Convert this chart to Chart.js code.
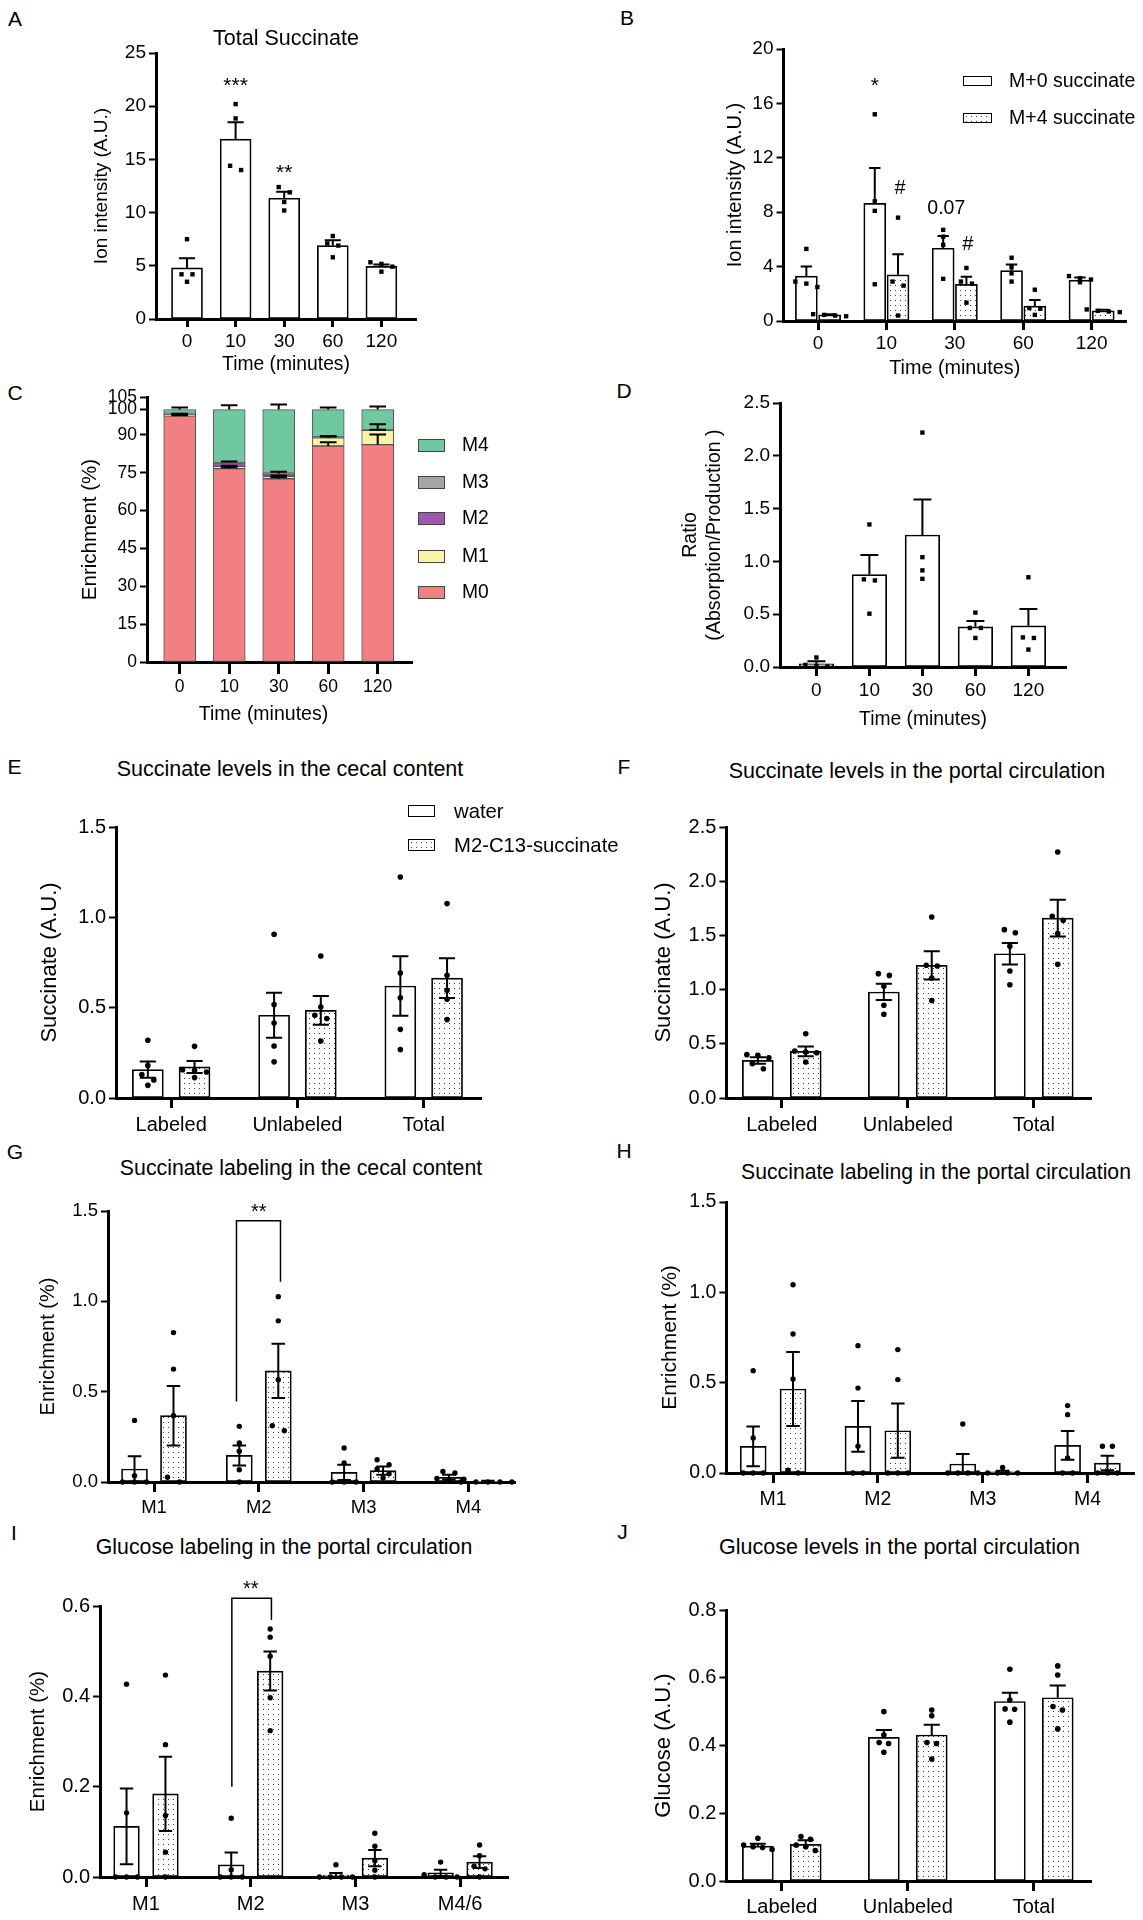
<!DOCTYPE html>
<html>
<head>
<meta charset="utf-8">
<title>Succinate absorption figure</title>
<script src="https://cdn.jsdelivr.net/npm/chart.js@4.4.1/dist/chart.umd.min.js"></script>
<style>
  body { margin: 0; background: #fff; }
  #page { position: relative; width: 1143px; height: 1920px; overflow: hidden;
          font-family: 'Liberation Sans', Arial, sans-serif; color: #000; background: #fff; }
  #page canvas { position: absolute; }
  .txt { position: absolute; white-space: nowrap; line-height: 1; transform: translate(-50%, -50%); }
  .leg { position: absolute; white-space: nowrap; line-height: 1; transform: translateY(-50%); }
  .sw { position: absolute; box-sizing: border-box; border: 1.5px solid #000; background: #fff; }
  .sw.dots { background: radial-gradient(circle at 2.5px 2.5px, #444 0.7px, transparent 1px) 0 0 / 5px 5px, #fff; }
</style>
</head>
<body>
<div id="page"></div>
<script>
// ---- data ----
const timeCats = ['0', '10', '30', '60', '120'];
const levelCats = ['Labeled', 'Unlabeled', 'Total'];
const isoCats = ['M1', 'M2', 'M3', 'M4'];
const glucoseIsoCats = ['M1', 'M2', 'M3', 'M4/6'];

const aTicks = [0, 5, 10, 15, 20, 25];
const bTicks = [0, 4, 8, 12, 16, 20];
const cTicks = [0, 15, 30, 45, 60, 75, 90, 100, 105];
const dTicks = [0, 0.5, 1, 1.5, 2, 2.5];
const eTicks = [0, 0.5, 1, 1.5];
const fTicks = [0, 0.5, 1, 1.5, 2, 2.5];
const gTicks = [0, 0.5, 1, 1.5];
const iTicks = [0, 0.2, 0.4, 0.6];
const jTicks = [0, 0.2, 0.4, 0.6, 0.8];

// A: total succinate
const totalMean = [4.8, 16.9, 11.35, 6.9, 4.95];
const totalSem = [0.9, 1.6, 0.6, 0.5, 0.18];
const totalDots = [[7.5, 4.2, 4.2, 3.5], [20.2, 18.85, 14.4, 14.0], [12.4, 11.9, 11.0, 10.2], [7.8, 7.1, 6.9, 5.8], [5.33, 5.18, 4.92, 4.45]];

// B: M+0 / M+4 succinate
const bLegend = ['M+0 succinate', 'M+4 succinate'];
const m0Mean = [3.3, 8.65, 5.35, 3.7, 3.0];
const m0Sem = [0.7, 2.6, 0.9, 0.45, 0.2];
const m0Dots = [[5.3, 2.9, 2.75, 2.5], [15.2, 8.8, 8.1, 2.7], [6.7, 6.2, 5.6, 3.1], [4.65, 3.95, 3.5, 2.9], [3.3, 3.15, 3.05, 2.85]];
const m4Mean = [0.45, 3.4, 2.7, 1.1, 0.75];
const m4Sem = [0.05, 1.5, 0.55, 0.45, 0.08];
const m4Dots = [[0.5, 0.45, 0.4, 0.35], [7.6, 2.9, 2.6, 0.4], [3.9, 2.9, 2.75, 1.35], [2.3, 0.95, 0.9, 0.45], [0.85, 0.75, 0.7, 0.65]];

// C: isotopologue enrichment (stacked, %)
const cLegend = ['M4', 'M3', 'M2', 'M1', 'M0'];
const cM0 = [97.5, 76.6, 72.6, 85.6, 86.1];
const cM1 = [0.5, 0.9, 1.0, 3.2, 5.7];
const cM2 = [0.3, 1.4, 1.0, 0.4, 0.1];
const cM3 = [0.2, 0.1, 0.2, 0.1, 0.1];
const cM4 = [1.5, 21.0, 25.2, 10.7, 8.0];
const cM0Sem = [0.3, 0.6, 0.6, 1.5, 4.0];
const cM1Sem = [0.1, 0.3, 0.3, 0.5, 2.4];
const cM2Sem = [0.1, 0.5, 0.8, 0.3, 0.1];
const cM3Sem = [0, 0, 0, 0, 0];
const cM4Sem = [0.8, 1.7, 2.0, 0.8, 1.2];

// D: absorption / production ratio
const ratioMean = [0.03, 0.875, 1.25, 0.38, 0.39];
const ratioSem = [0.025, 0.185, 0.335, 0.055, 0.16];
const ratioDots = [[0.09, 0.02, 0.01, 0.005], [1.35, 0.83, 0.82, 0.505], [2.22, 1.04, 0.915, 0.835], [0.515, 0.37, 0.37, 0.275], [0.85, 0.28, 0.275, 0.165]];

const groupLegend = ['water', 'M2-C13-succinate'];

// E: succinate levels in the cecal content
const cecalWaterMean = [0.157, 0.458, 0.62];
const cecalWaterSem = [0.045, 0.125, 0.165];
const cecalWaterDots = [[0.32, 0.18, 0.13, 0.1, 0.07], [0.906, 0.517, 0.415, 0.288, 0.2], [1.223, 0.692, 0.555, 0.38, 0.268]];
const cecalSuccMean = [0.172, 0.485, 0.664];
const cecalSuccSem = [0.033, 0.08, 0.11];
const cecalSuccDots = [[0.286, 0.157, 0.153, 0.144, 0.113], [0.786, 0.504, 0.458, 0.44, 0.315], [1.076, 0.679, 0.596, 0.546, 0.434]];

// F: succinate levels in the portal circulation
const portalWaterMean = [0.347, 0.978, 1.331];
const portalWaterSem = [0.03, 0.075, 0.1];
const portalWaterDots = [[0.4, 0.394, 0.372, 0.317, 0.27], [1.147, 1.131, 1.03, 0.855, 0.772], [1.553, 1.525, 1.4, 1.172, 1.045]];
const portalSuccMean = [0.43, 1.224, 1.66];
const portalSuccSem = [0.045, 0.13, 0.17];
const portalSuccDots = [[0.593, 0.434, 0.424, 0.418, 0.332], [1.67, 1.224, 1.218, 1.107, 0.9], [2.27, 1.676, 1.64, 1.516, 1.233]];

// G: succinate labeling in the cecal content
const gWaterMean = [0.072, 0.147, 0.053, 0.026];
const gWaterSem = [0.07, 0.055, 0.042, 0.014];
const gWaterDots = [[0.341, 0.035, 0, 0, 0], [0.308, 0.216, 0.17, 0.068, 0], [0.188, 0.105, 0, 0, 0], [0.058, 0.05, 0.02, 0.01, 0]];
const gSuccMean = [0.367, 0.615, 0.063, 0.004];
const gSuccSem = [0.165, 0.15, 0.023, 0.003];
const gSuccDots = [[0.827, 0.625, 0.367, 0.026, 0], [1.026, 0.892, 0.566, 0.311, 0.284], [0.123, 0.096, 0.072, 0.046, 0.022], [0.015, 0, 0, 0, 0]];

// H: succinate labeling in the portal circulation
const hWaterMean = [0.148, 0.258, 0.05, 0.153];
const hWaterSem = [0.11, 0.14, 0.055, 0.08];
const hWaterDots = [[0.566, 0.194, 0, 0, 0], [0.705, 0.47, 0.148, 0, 0], [0.271, 0, 0, 0, 0], [0.373, 0.323, 0.083, 0, 0]];
const hSuccMean = [0.465, 0.234, 0.006, 0.055];
const hSuccSem = [0.205, 0.15, 0.006, 0.04];
const hSuccDots = [[1.042, 0.769, 0.52, 0.015, 0], [0.683, 0.517, 0, 0, 0], [0.031, 0, 0, 0, 0], [0.148, 0.148, 0, 0, 0]];

// I: glucose labeling in the portal circulation
const iWaterMean = [0.112, 0.027, 0.004, 0.009];
const iWaterSem = [0.084, 0.027, 0.005, 0.007];
const iWaterDots = [[0.427, 0.142, 0, 0, 0], [0.13, 0.016, 0, 0, 0], [0.027, 0, 0, 0, 0], [0.033, 0.005, 0, 0, 0]];
const iSuccMean = [0.184, 0.456, 0.042, 0.033];
const iSuccSem = [0.082, 0.043, 0.018, 0.013];
const iSuccDots = [[0.447, 0.293, 0.136, 0.055, 0], [0.549, 0.531, 0.489, 0.397, 0.324], [0.097, 0.068, 0.036, 0.015, 0], [0.071, 0.047, 0.024, 0.018, 0]];

// J: glucose levels in the portal circulation
const jWaterMean = [0.103, 0.424, 0.53];
const jWaterSem = [0.007, 0.022, 0.026];
const jWaterDots = [[0.126, 0.106, 0.101, 0.099, 0.093], [0.5, 0.431, 0.409, 0.406, 0.38], [0.625, 0.534, 0.508, 0.507, 0.469]];
const jSuccMean = [0.108, 0.431, 0.541];
const jSuccSem = [0.012, 0.03, 0.036];
const jSuccDots = [[0.131, 0.123, 0.106, 0.101, 0.09], [0.505, 0.488, 0.409, 0.406, 0.36], [0.635, 0.608, 0.515, 0.505, 0.449]];

// ---- drawing ----
const page = document.getElementById('page');
const FONT = "'Liberation Sans', Arial, sans-serif";
Chart.defaults.font.family = FONT;
Chart.defaults.color = '#000';

const isoColors = { M0: '#f27f81', M1: '#f9f3a3', M2: '#9b5aad', M3: '#a5a5a5', M4: '#6fc8a1' };

// stippled fill for the succinate-treated bars
const dotted = (() => {
  const c = document.createElement('canvas');
  c.width = 5; c.height = 5;
  const g = c.getContext('2d');
  g.fillStyle = '#fff'; g.fillRect(0, 0, 5, 5);
  g.fillStyle = '#3a3a3a';
  g.fillRect(2, 2, 1, 1);
  return g.createPattern(c, 'repeat');
})();

// spread points sideways when they would overlap (scatter dot plot)
function swarm(vals, pxPerVal, gapX) {
  const idx = vals.map((_, i) => i).sort((a, b) => vals[b] - vals[a]);
  const offs = vals.map(() => 0);
  let group = [];
  const place = () => {
    group.forEach((k, j) => { offs[k] = (j - (group.length - 1) / 2) * gapX; });
    group = [];
  };
  idx.forEach(k => {
    if (group.length && (vals[group[0]] - vals[k]) * pxPerVal > 5.5) place();
    group.push(k);
  });
  place();
  return offs;
}

// mean +/- SEM whiskers
const errorBars = {
  id: 'errorBars',
  afterDatasetsDraw(chart) {
    const ctx = chart.ctx, ys = chart.scales.y;
    chart.data.datasets.forEach((ds, di) => {
      if (!ds.sem) return;
      const meta = chart.getDatasetMeta(di);
      ctx.save();
      ctx.strokeStyle = '#000';
      ctx.lineWidth = 2;
      meta.data.forEach((bar, i) => {
        const s = ds.sem[i];
        if (!s) return;
        const top = ys.getValueForPixel(bar.y);
        const hi = ys.getPixelForValue(top + s);
        const both = ds.errDir === 'both';
        const lo = both ? ys.getPixelForValue(Math.max(top - s, ys.min)) : bar.y;
        const w = bar.width * 0.26;
        ctx.beginPath();
        ctx.moveTo(bar.x, lo); ctx.lineTo(bar.x, hi);
        ctx.moveTo(bar.x - w, hi); ctx.lineTo(bar.x + w, hi);
        if (both) { ctx.moveTo(bar.x - w, lo); ctx.lineTo(bar.x + w, lo); }
        ctx.stroke();
      });
      ctx.restore();
    });
  }
};

// significance marks and brackets
function marksPlugin(m) {
  return {
    id: 'marks',
    afterDraw(chart) {
      if (!m) return;
      const ctx = chart.ctx, xs = chart.scales.x, ys = chart.scales.y;
      ctx.save();
      ctx.strokeStyle = '#000'; ctx.fillStyle = '#000'; ctx.lineWidth = 1.5;
      (m.brackets || []).forEach(b => {
        ctx.beginPath();
        ctx.moveTo(xs.getPixelForValue(b.x1), ys.getPixelForValue(b.y1));
        ctx.lineTo(xs.getPixelForValue(b.x1), ys.getPixelForValue(b.top));
        ctx.lineTo(xs.getPixelForValue(b.x2), ys.getPixelForValue(b.top));
        ctx.lineTo(xs.getPixelForValue(b.x2), ys.getPixelForValue(b.y2));
        ctx.stroke();
      });
      ctx.textAlign = 'center';
      ctx.textBaseline = 'alphabetic';
      (m.texts || []).forEach(t => {
        const size = t.size || m.size || 20;
        ctx.font = size + 'px ' + FONT;
        const k = /^\*+$/.test(t.text) ? 0.57 : 0.36;
        ctx.fillText(t.text, xs.getPixelForValue(t.x), ys.getPixelForValue(t.y) + k * size);
      });
      ctx.restore();
    }
  };
}

function makeChart(p) {
  const lh = p.yTitleSize * 1.2;
  const left = Math.round(p.yTitleX - lh / 2);
  const top = p.box.t - (p.topPad || 16);
  const right = Math.min(Math.round(p.box.r) + 14, 1143);
  const canvas = document.createElement('canvas');
  canvas.width = right - left;
  canvas.height = p.bottom - top;
  canvas.style.left = left + 'px';
  canvas.style.top = top + 'px';
  page.appendChild(canvas);

  const xMin = (p.box.l - p.x0) / p.step;
  const xMax = (p.box.r - p.x0) / p.step;
  const yMin = p.yTicks[0], yMax = p.yTicks[p.yTicks.length - 1];
  const pxPerVal = (p.box.b - p.box.t) / (yMax - yMin);

  const datasets = [];
  p.series.forEach(s => {
    datasets.push({
      type: 'bar',
      data: s.mean.map((m, i) => ({ x: i + s.off, y: m })),
      sem: s.sem, errDir: p.errDir,
      backgroundColor: s.fill, borderColor: s.border || '#000', borderWidth: s.borderWidth || 1.7,
      borderSkipped: false, barThickness: p.thickness, grouped: false, order: 2
    });
    if (s.dots) {
      const pts = [];
      s.dots.forEach((vals, i) => {
        const offs = swarm(vals, pxPerVal, p.dotGap / p.step);
        vals.forEach((v, k) => pts.push({ x: i + s.off + offs[k], y: v }));
      });
      datasets.push({
        type: 'scatter', data: pts, pointStyle: p.dotStyle, pointRadius: p.dotR,
        backgroundColor: '#000', borderWidth: 0, clip: false, order: 1
      });
    }
  });

  new Chart(canvas, {
    type: 'bar',
    data: { datasets },
    options: {
      responsive: false,
      animation: false,
      events: [],
      layout: { padding: { left: 0, top: p.box.t - top, right: right - p.box.r, bottom: 0 } },
      plugins: { legend: { display: false }, tooltip: { enabled: false } },
      scales: {
        x: {
          type: 'linear', min: xMin, max: xMax, offset: false, bounds: 'data',
          border: { display: true, color: '#000', width: 3 },
          grid: { offset: false, drawOnChartArea: false, drawTicks: true, tickLength: p.xTickLen, tickWidth: 3, color: '#000' },
          ticks: { color: '#000', font: { size: p.tickSize }, padding: p.xTickPad, maxRotation: 0, autoSkip: false,
                   callback: v => p.cats[v] },
          afterBuildTicks: s => { s.ticks = p.cats.map((c, i) => ({ value: i })); },
          afterFit: s => { s.height = p.bottom - p.box.b; s.paddingLeft = 0; s.paddingRight = 0; },
          title: p.xTitle
            ? { display: true, text: p.xTitle, color: '#000', font: { size: p.xTitleSize }, padding: 0 }
            : { display: false }
        },
        y: {
          type: 'linear', min: yMin, max: yMax, bounds: 'data', stacked: !!p.stacked,
          border: { display: true, color: '#000', width: 3 },
          grid: { drawOnChartArea: false, drawTicks: true, tickLength: 7, tickWidth: 2, color: '#000' },
          ticks: { color: '#000', font: { size: p.tickSize }, padding: 3, autoSkip: false, callback: v => p.yFmt(v) },
          afterBuildTicks: s => { s.ticks = p.yTicks.map(v => ({ value: v })); },
          afterFit: s => { s.width = p.box.l - left; },
          title: { display: true, text: p.yTitle, color: '#000', font: { size: p.yTitleSize }, padding: 0 }
        }
      }
    },
    plugins: [errorBars, marksPlugin(p.marks)]
  });
}

function addText(x, y, text, size) {
  const d = document.createElement('div');
  d.className = 'txt';
  d.textContent = text;
  d.style.left = x + 'px';
  d.style.top = y + 'px';
  d.style.fontSize = size + 'px';
  page.appendChild(d);
}

function addLegend(labels, fills, sx, tx, ys, sw, sh, size) {
  labels.forEach((label, i) => {
    const s = document.createElement('div');
    s.className = 'sw' + (fills[i] === 'dots' ? ' dots' : '');
    if (fills[i] !== 'dots' && fills[i] !== 'white') {
      s.style.background = fills[i];
      s.style.borderColor = '#444';
    }
    s.style.left = sx + 'px';
    s.style.top = (ys[i] - sh / 2) + 'px';
    s.style.width = sw + 'px';
    s.style.height = sh + 'px';
    page.appendChild(s);
    const t = document.createElement('div');
    t.className = 'leg';
    t.textContent = label;
    t.style.left = tx + 'px';
    t.style.top = ys[i] + 'px';
    t.style.fontSize = size + 'px';
    page.appendChild(t);
  });
}

const fmt0 = v => String(v);
const fmt1 = v => v.toFixed(1);

// A
makeChart({
  box: { l: 156, t: 53, r: 416, b: 319 }, x0: 187, step: 48.6,
  cats: timeCats, yTicks: aTicks, yFmt: fmt0,
  tickSize: 19, yTitle: 'Ion intensity (A.U.)', yTitleSize: 19, yTitleX: 101,
  xTitle: 'Time (minutes)', xTitleSize: 19.3, bottom: 376, xTickLen: 8, xTickPad: 3,
  thickness: 31, errDir: 'up', dotStyle: 'rect', dotR: 3.1, dotGap: 11,
  series: [{ mean: totalMean, sem: totalSem, dots: totalDots, off: 0, fill: '#fff' }],
  marks: { size: 21, texts: [{ x: 1, y: 22.5, text: '***' }, { x: 2, y: 14.3, text: '**' }] }
});

// B
makeChart({
  box: { l: 783.5, t: 49, r: 1126, b: 321 }, x0: 818, step: 68.4,
  cats: timeCats, yTicks: bTicks, yFmt: fmt0,
  tickSize: 19, yTitle: 'Ion intensity (A.U.)', yTitleSize: 20, yTitleX: 735,
  xTitle: 'Time (minutes)', xTitleSize: 19.8, bottom: 380, xTickLen: 9, xTickPad: 2,
  thickness: 22, errDir: 'up', dotStyle: 'rect', dotR: 3.1, dotGap: 11,
  series: [
    { mean: m0Mean, sem: m0Sem, dots: m0Dots, off: -0.17, fill: '#fff' },
    { mean: m4Mean, sem: m4Sem, dots: m4Dots, off: 0.17, fill: dotted }
  ],
  marks: { size: 21, texts: [
    { x: 0.83, y: 17.7, text: '*' }, { x: 1.2, y: 9.85, text: '#', size: 20 },
    { x: 1.876, y: 8.4, text: '0.07', size: 19.5 }, { x: 2.19, y: 5.75, text: '#', size: 20 }
  ] }
});

// C
const cFractions = [cM0, cM1, cM2, cM3, cM4];
const cSems = [cM0Sem, cM1Sem, cM2Sem, cM3Sem, cM4Sem];
const cOrder = ['M0', 'M1', 'M2', 'M3', 'M4'];
makeChart({
  box: { l: 147, t: 397, r: 412.5, b: 662 }, x0: 179.7, step: 49.5,
  cats: timeCats, yTicks: cTicks, yFmt: fmt0, stacked: true,
  tickSize: 17.5, yTitle: 'Enrichment (%)', yTitleSize: 20.5, yTitleX: 90,
  xTitle: 'Time (minutes)\u00a0\u00a0\u00a0\u00a0\u00a0\u00a0', xTitleSize: 19.5, bottom: 726, xTickLen: 12, xTickPad: 3,
  thickness: 32, errDir: 'up',
  series: cOrder.map((n, k) => ({ mean: cFractions[k], sem: cSems[k], off: 0, fill: isoColors[n], border: '#555', borderWidth: 1 }))
});

// D
makeChart({
  box: { l: 780, t: 403, r: 1066, b: 667 }, x0: 816.4, step: 53,
  cats: timeCats, yTicks: dTicks, yFmt: fmt1,
  tickSize: 19, yTitle: ['Ratio', '(Absorption/Production )'], yTitleSize: 19.6, yTitleX: 691,
  xTitle: 'Time (minutes)', xTitleSize: 19.3, bottom: 731, xTickLen: 9, xTickPad: 3,
  thickness: 34.6, errDir: 'up', dotStyle: 'rect', dotR: 3.1, dotGap: 11,
  series: [{ mean: ratioMean, sem: ratioSem, dots: ratioDots, off: 0, fill: '#fff' }]
});

// E
makeChart({
  box: { l: 116, t: 827, r: 481, b: 1098 }, x0: 171.2, step: 126.25,
  cats: levelCats, yTicks: eTicks, yFmt: fmt1,
  tickSize: 20, yTitle: 'Succinate (A.U.)', yTitleSize: 22, yTitleX: 50,
  bottom: 1140, xTickLen: 10, xTickPad: 5,
  thickness: 31, errDir: 'both', dotStyle: 'circle', dotR: 2.8, dotGap: 12,
  series: [
    { mean: cecalWaterMean, sem: cecalWaterSem, dots: cecalWaterDots, off: -0.185, fill: '#fff' },
    { mean: cecalSuccMean, sem: cecalSuccSem, dots: cecalSuccDots, off: 0.185, fill: dotted }
  ]
});

// F
makeChart({
  box: { l: 726.4, t: 827, r: 1091.7, b: 1098 }, x0: 781.8, step: 126,
  cats: levelCats, yTicks: fTicks, yFmt: fmt1,
  tickSize: 20, yTitle: 'Succinate (A.U.)', yTitleSize: 22, yTitleX: 664,
  bottom: 1140, xTickLen: 10, xTickPad: 5,
  thickness: 31, errDir: 'both', dotStyle: 'circle', dotR: 2.8, dotGap: 11,
  series: [
    { mean: portalWaterMean, sem: portalWaterSem, dots: portalWaterDots, off: -0.19, fill: '#fff' },
    { mean: portalSuccMean, sem: portalSuccSem, dots: portalSuccDots, off: 0.19, fill: dotted }
  ]
});

// G
makeChart({
  box: { l: 108, t: 1211, r: 515, b: 1482 }, x0: 154, step: 104.8,
  cats: isoCats, yTicks: gTicks, yFmt: fmt1,
  tickSize: 18.5, yTitle: 'Enrichment (%)', yTitleSize: 20, yTitleX: 48,
  bottom: 1524, xTickLen: 10, xTickPad: 5,
  thickness: 26, errDir: 'both', dotStyle: 'circle', dotR: 2.7, dotGap: 12,
  series: [
    { mean: gWaterMean, sem: gWaterSem, dots: gWaterDots, off: -0.186, fill: '#fff' },
    { mean: gSuccMean, sem: gSuccSem, dots: gSuccDots, off: 0.186, fill: dotted }
  ],
  marks: { size: 20, brackets: [{ x1: 0.787, y1: 0.446, top: 1.446, x2: 1.207, y2: 1.109 }],
           texts: [{ x: 1, y: 1.524, text: '**' }] }
});

// H
makeChart({
  box: { l: 726.4, t: 1202, r: 1134, b: 1473 }, x0: 773.1, step: 104.8,
  cats: isoCats, yTicks: gTicks, yFmt: fmt1,
  tickSize: 19.5, yTitle: 'Enrichment (%)', yTitleSize: 21, yTitleX: 671,
  bottom: 1516, xTickLen: 10, xTickPad: 5,
  thickness: 26, errDir: 'both', dotStyle: 'circle', dotR: 2.7, dotGap: 10,
  series: [
    { mean: hWaterMean, sem: hWaterSem, dots: hWaterDots, off: -0.19, fill: '#fff' },
    { mean: hSuccMean, sem: hSuccSem, dots: hSuccDots, off: 0.19, fill: dotted }
  ]
});

// I
makeChart({
  box: { l: 100, t: 1606, r: 508, b: 1877 }, x0: 146, step: 104.7, topPad: 34,
  cats: glucoseIsoCats, yTicks: iTicks, yFmt: fmt1,
  tickSize: 20, yTitle: 'Enrichment (%)', yTitleSize: 20.5, yTitleX: 38.5,
  bottom: 1919, xTickLen: 10, xTickPad: 5,
  thickness: 25.7, errDir: 'both', dotStyle: 'circle', dotR: 2.7, dotGap: 11,
  series: [
    { mean: iWaterMean, sem: iWaterSem, dots: iWaterDots, off: -0.186, fill: '#fff' },
    { mean: iSuccMean, sem: iSuccSem, dots: iSuccDots, off: 0.186, fill: dotted }
  ],
  marks: { size: 20, brackets: [{ x1: 0.82, y1: 0.2, top: 0.617, x2: 1.198, y2: 0.569 }],
           texts: [{ x: 1, y: 0.65, text: '**' }] }
});

// J
makeChart({
  box: { l: 726.4, t: 1610, r: 1091.7, b: 1881 }, x0: 781.8, step: 126,
  cats: levelCats, yTicks: jTicks, yFmt: fmt1,
  tickSize: 20, yTitle: 'Glucose (A.U.)', yTitleSize: 22, yTitleX: 664,
  bottom: 1920, xTickLen: 10, xTickPad: 4,
  thickness: 31, errDir: 'up', dotStyle: 'circle', dotR: 2.8, dotGap: 9.5,
  series: [
    { mean: jWaterMean, sem: jWaterSem, dots: jWaterDots, off: -0.19, fill: '#fff' },
    { mean: jSuccMean, sem: jSuccSem, dots: jSuccDots, off: 0.19, fill: dotted }
  ]
});

// panel letters and titles
addText(15, 18, 'A', 21);
addText(627, 17, 'B', 21);
addText(15, 392, 'C', 21);
addText(624, 390, 'D', 21);
addText(14.5, 766, 'E', 21);
addText(624, 766, 'F', 21);
addText(15, 1151, 'G', 21);
addText(624, 1150, 'H', 21);
addText(14, 1532, 'I', 21);
addText(622.5, 1531, 'J', 21);

addText(286, 39, 'Total Succinate', 21.5);
addText(290, 770, 'Succinate levels in the cecal content', 21.5);
addText(917, 772, 'Succinate levels in the portal circulation', 21.5);
addText(301, 1169, 'Succinate labeling in the cecal content', 21.3);
addText(936, 1172, 'Succinate labeling in the portal circulation', 21.2);
addText(284, 1548, 'Glucose labeling in the portal circulation', 21.3);
addText(899.5, 1548, 'Glucose levels in the portal circulation', 21.5);

// legends
addLegend(bLegend, ['white', 'dots'], 963.3, 1009, [81, 118], 28.5, 10, 19.5);
addLegend(cLegend, cLegend.map(n => isoColors[n]), 418, 462, [445, 482, 518, 556, 592], 27, 13, 19.3);
addLegend(groupLegend, ['white', 'dots'], 408.3, 454, [810.5, 845], 26.7, 12, 20.3);
</script>
</body>
</html>
